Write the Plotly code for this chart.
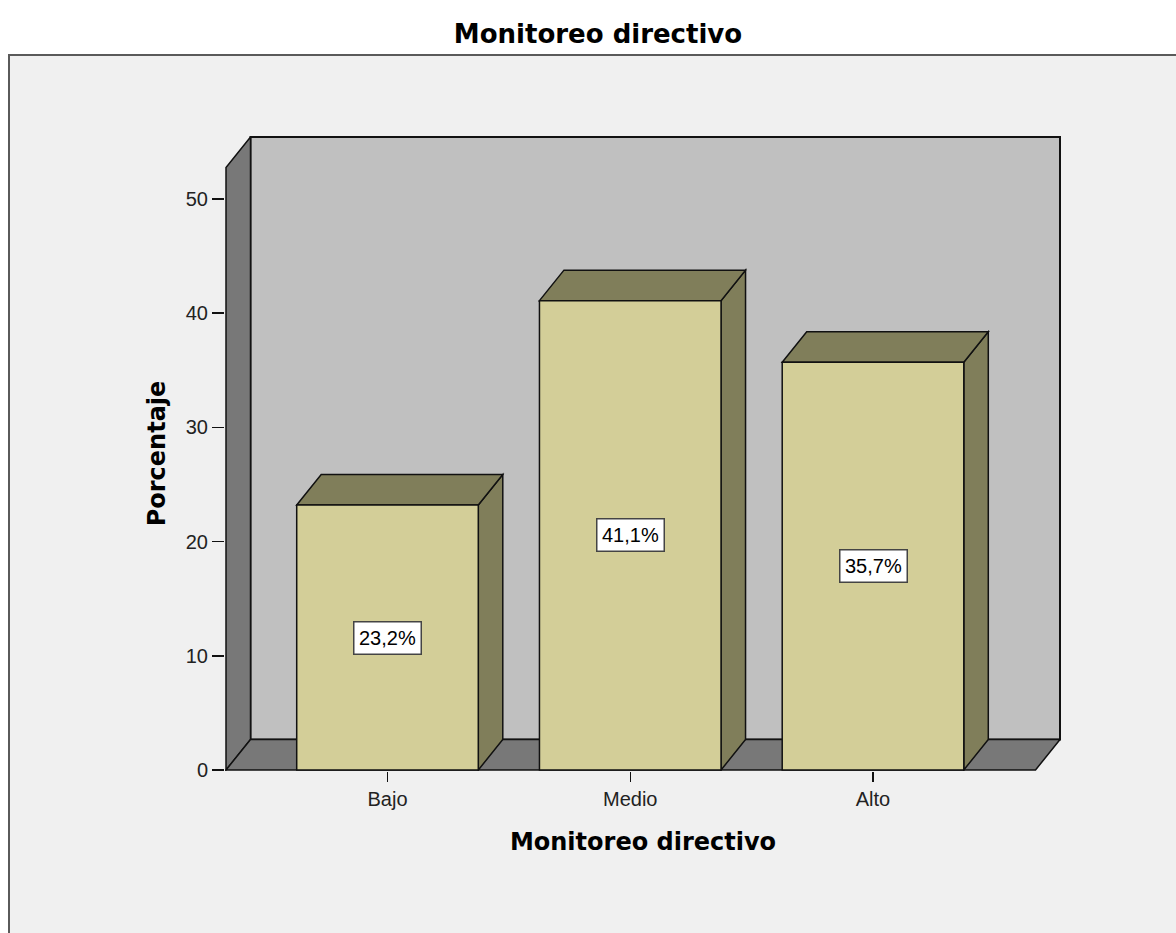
import plotly.graph_objects as go

# ---------------- data ----------------
categories = ["Bajo", "Medio", "Alto"]
percentages = [23.2, 41.1, 35.7]
y_tick_values = [0, 10, 20, 30, 40, 50]
chart_title = "Monitoreo directivo"
x_axis_title = "Monitoreo directivo"
y_axis_title = "Porcentaje"

# ---------------- geometry / style ----------------
W, H = 1176, 933

PX_L, PX_R, PX_T, PX_B = 225, 1061, 136, 771   # plot area
X0_PX, X_STEP_PX = 387.5, 242.75               # first category centre, spacing
Y0_PX, Y_UNIT_PX = 770.0, 11.42                # pixel of value 0, px per unit
WALL_L_PX, WALL_R_PX, WALL_T_PX = 226, 1060, 137
DEPTH_X_PX, DEPTH_Y_PX = 24.5, 30.5
BAR_W = 0.748


def xd(px):
    return (px - X0_PX) / X_STEP_PX


def yd(py):
    return (Y0_PX - py) / Y_UNIT_PX


X_RANGE = [xd(PX_L), xd(PX_R)]
Y_RANGE = [yd(PX_B), yd(PX_T)]
DX = DEPTH_X_PX / X_STEP_PX
DY = DEPTH_Y_PX / Y_UNIT_PX
XL, XR, YT = xd(WALL_L_PX), xd(WALL_R_PX), yd(WALL_T_PX)

FRONT = "#D3CE98"
SIDE = "#807E5A"
WALL_BACK = "#C0C0C0"
WALL_DARK = "#787878"
BG = "#F0F0F0"
EDGE = "#111111"
TICK_FONT = dict(family="Liberation Sans, Arial, sans-serif", size=20, color="#222222")
BOLD_FONT = "DejaVu Sans, Verdana, sans-serif"


def poly(points):
    return "M " + " L ".join(f"{x},{y}" for x, y in points) + " Z"


shapes = []
# outer frame (paper coords)
pw, ph = PX_R - PX_L, PX_B - PX_T
shapes.append(dict(type="rect", xref="paper", yref="paper",
                   x0=(9 - PX_L) / pw, x1=(W + 30 - PX_L) / pw,
                   y0=(PX_B - (H + 30)) / ph, y1=(PX_B - 55) / ph,
                   fillcolor=BG, line=dict(color="#5A5A5A", width=2), layer="below"))
# back wall
shapes.append(dict(type="rect", xref="x", yref="y", x0=XL + DX, x1=XR, y0=DY, y1=YT,
                   fillcolor=WALL_BACK, line=dict(color=EDGE, width=2), layer="below"))
# left wall
shapes.append(dict(type="path", xref="x", yref="y",
                   path=poly([(XL, 0), (XL, YT - DY), (XL + DX, YT), (XL + DX, DY)]),
                   fillcolor=WALL_DARK, line=dict(color=EDGE, width=1.5), layer="below"))
# floor
shapes.append(dict(type="path", xref="x", yref="y",
                   path=poly([(XL, 0), (XL + DX, DY), (XR, DY), (XR - DX, 0)]),
                   fillcolor=WALL_DARK, line=dict(color=EDGE, width=1.5), layer="below"))

# 3D side and top faces of each bar, derived from the data
for i, v in enumerate(percentages):
    l, r = i - BAR_W / 2, i + BAR_W / 2
    shapes.append(dict(type="path", xref="x", yref="y",
                       path=poly([(r, 0), (r + DX, DY), (r + DX, v + DY), (r, v)]),
                       fillcolor=SIDE, line=dict(color=EDGE, width=1.5), layer="below"))
    shapes.append(dict(type="path", xref="x", yref="y",
                       path=poly([(l, v), (l + DX, v + DY), (r + DX, v + DY), (r, v)]),
                       fillcolor=SIDE, line=dict(color=EDGE, width=1.5), layer="below"))

xs = list(range(len(categories)))
fig = go.Figure()
fig.add_trace(go.Bar(x=xs, y=percentages, width=BAR_W,
                     marker=dict(color=FRONT, line=dict(color=EDGE, width=1.5)),
                     hoverinfo="skip"))

annotations = []
for i, v in enumerate(percentages):
    annotations.append(dict(x=i, y=v / 2, xref="x", yref="y",
                            text=f"{v:.1f}".replace(".", ",") + "%",
                            showarrow=False, font=TICK_FONT | dict(color="#000000"),
                            bgcolor="#FFFFFF", bordercolor="#444444",
                            borderwidth=1.5, borderpad=4.5))

fig.update_layout(
    width=W, height=H,
    margin=dict(l=PX_L, r=W - PX_R, t=PX_T, b=H - PX_B, autoexpand=False),
    paper_bgcolor="#FFFFFF", plot_bgcolor=BG,
    showlegend=False,
    shapes=shapes,
    annotations=annotations,
    title=dict(text=chart_title, x=598 / W, xref="container", xanchor="center",
               y=1 - 34 / H, yref="container", yanchor="middle",
               font=dict(family=BOLD_FONT, size=26, color="#000000", weight="bold")),
    xaxis=dict(range=X_RANGE, tickvals=xs, ticktext=categories,
               ticks="outside", ticklen=10, tickwidth=1.5, tickcolor=EDGE,
               showgrid=False, zeroline=False, showline=False,
               tickfont=TICK_FONT,
               title=dict(text=x_axis_title, standoff=24,
                          font=dict(family=BOLD_FONT, size=24, color="#000000", weight="bold"))),
    yaxis=dict(range=Y_RANGE, tickvals=y_tick_values,
               ticks="outside", ticklen=12, tickwidth=1.5, tickcolor=EDGE,
               showgrid=False, zeroline=False, showline=False,
               tickfont=TICK_FONT,
               title=dict(text=y_axis_title, standoff=13,
                          font=dict(family=BOLD_FONT, size=24, color="#000000", weight="bold"))),
)

# remove the default page margin so the figure sits at the window's top-left corner
fig.write_html("out.html",
               config={"displayModeBar": False, "staticPlot": True},
               post_script="document.body.style.margin='0px';document.body.style.overflow='hidden';")
